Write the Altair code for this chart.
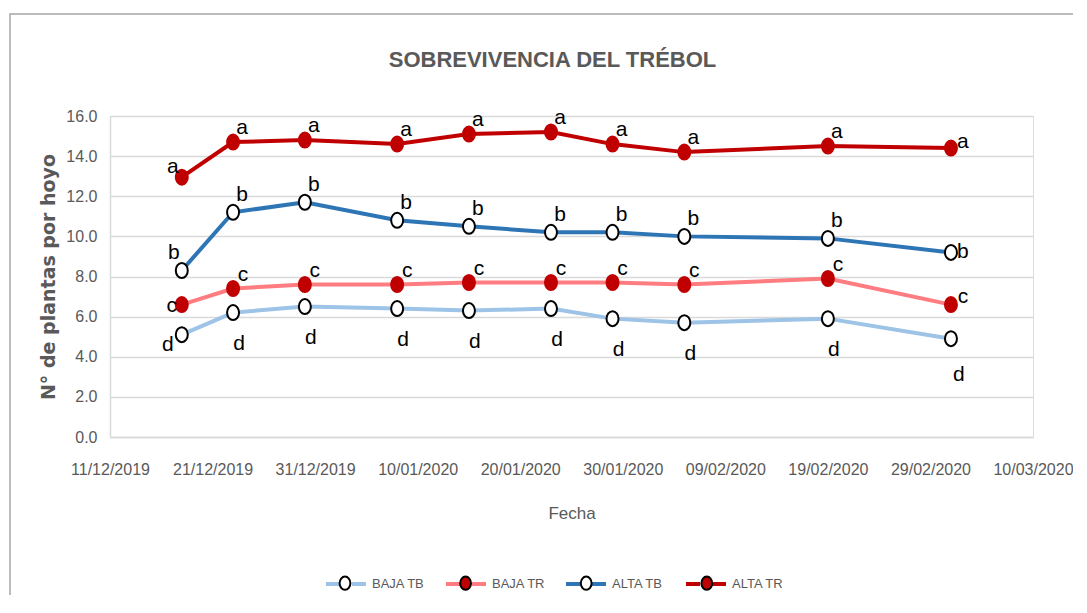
import altair as alt
import pandas as pd

# ---------------- data ----------------
fechas = ["2019-12-18", "2019-12-23", "2019-12-30", "2020-01-08", "2020-01-15",
          "2020-01-23", "2020-01-29", "2020-02-05", "2020-02-19", "2020-03-02"]
series = ["BAJA TB", "BAJA TR", "ALTA TB", "ALTA TR"]
baja_tb = [5.1, 6.2, 6.5, 6.4, 6.3, 6.4, 5.9, 5.7, 5.9, 4.9]
baja_tr = [6.6, 7.4, 7.6, 7.6, 7.7, 7.7, 7.7, 7.6, 7.9, 6.6]
alta_tb = [8.3, 11.2, 11.7, 10.8, 10.5, 10.2, 10.2, 10.0, 9.9, 9.2]
alta_tr = [12.95, 14.7, 14.8, 14.6, 15.1, 15.2, 14.6, 14.2, 14.5, 14.4]
letras = ["d", "c", "b", "a"]
ticks_fecha = ["2019-12-11", "2019-12-21", "2019-12-31", "2020-01-10", "2020-01-20",
               "2020-01-30", "2020-02-09", "2020-02-19", "2020-02-29", "2020-03-10"]
ticks_y = [0, 2, 4, 6, 8, 10, 12, 14, 16]

# ---------------- styles ----------------
line_colors = ["#9DC3E6", "#FF7C80", "#2E75B6", "#C00000"]
marker_fill = ["#FFFFFF", "#C00000", "#FFFFFF", "#C00000"]
marker_stroke = ["#000000", "#C00000", "#000000", "#C00000"]
GRAY = "#595959"
GRID = "#D9D9D9"
FONT = "Liberation Sans, Arial"

rows = []
for s, vals, l in zip(series, [baja_tb, baja_tr, alta_tb, alta_tr], letras):
    for i, (f, v) in enumerate(zip(fechas, vals)):
        pos = "first" if i == 0 else ("last" if i == len(fechas) - 1 else "mid")
        rows.append(dict(fecha=f, valor=v, serie=s, serie2=s, letra=l, pos=pos))
df = pd.DataFrame(rows)


def dt(s):
    y, m, d = (int(p) for p in s.split("-"))
    return alt.DateTime(year=y, month=m, date=d, utc=True)


W, H = 923, 321

x_enc = alt.X(
    "fecha:T",
    scale=alt.Scale(type="utc", domain=[dt(ticks_fecha[0]), dt(ticks_fecha[-1])]),
    axis=alt.Axis(
        values=[dt(t) for t in ticks_fecha],
        labelExpr="utcFormat(datum.value, '%d/%m/%Y')",
        grid=False, ticks=False, domainColor=GRID, domainWidth=1.5,
        labelFont=FONT, labelFontSize=16, labelColor=GRAY, labelPadding=24,
        labelBaseline="top", labelOverlap=False, labelFlush=False,
        title="Fecha", titleFont=FONT, titleFontSize=17, titleFontWeight="normal",
        titleColor=GRAY, titleX=W / 2, titleY=76, titleBaseline="middle", titleAlign="center",
    ),
)
y_enc = alt.Y(
    "valor:Q",
    scale=alt.Scale(domain=[0, 16], nice=False),
    axis=alt.Axis(
        values=ticks_y, format=".1f", grid=True, gridColor=GRID, gridWidth=1.5,
        ticks=False, domain=True, domainColor=GRID, domainWidth=1.5,
        labelFont=FONT, labelFontSize=16, labelColor=GRAY, labelPadding=13,
        title="N° de plantas  por hoyo", titleFont="DejaVu Sans", titleFontSize=19,
        titleFontWeight="bold", titleColor=GRAY, titleAngle=270,
        titleX=-62, titleY=H / 2, titleBaseline="middle", titleAlign="center",
    ),
)

LINE_SYM = "M-1,0H-0.3M0.3,0H1"
ELL_SYM = "M-0.27,0A0.27,0.33,0,1,1,0.27,0A0.27,0.33,0,1,1,-0.27,0Z"
ELL_MARK = "M-0.8,0A0.8,1,0,1,1,0.8,0A0.8,1,0,1,1,-0.8,0Z"

LEG_X, LEG_Y = 214, 446
leg_common = dict(
    orient="none", legendX=LEG_X, legendY=LEG_Y, direction="horizontal", columns=4,
    title=None, symbolSize=1600, labelFont=FONT, labelFontSize=13, labelColor=GRAY,
    labelOffset=4, padding=0, gridAlign="all",
)

base = alt.Chart(df)

lines = base.mark_line(strokeWidth=4).encode(
    x=x_enc, y=y_enc,
    color=alt.Color("serie:N", sort=series,
                    scale=alt.Scale(domain=series, range=line_colors),
                    legend=alt.Legend(symbolType=LINE_SYM, symbolStrokeWidth=4,
                                      columnPadding=12, **leg_common)),
)

points = base.mark_point(shape=ELL_MARK, filled=True, size=225, strokeWidth=2, opacity=1).encode(
    x=x_enc, y=y_enc,
    fill=alt.Fill("serie2:N", sort=series, scale=alt.Scale(range=marker_fill),
                  legend=alt.Legend(symbolType=ELL_SYM, symbolStrokeWidth=2,
                                    symbolStrokeColor="#000000", labelExpr="''",
                                    columnPadding=74.6, **leg_common)),
    stroke=alt.Stroke("serie2:N", sort=series, scale=alt.Scale(range=marker_stroke), legend=None),
)

offsets = {
    "ALTA TR": {"first": (-9, -10), "mid": (9, -14), "last": (12, -6)},
    "ALTA TB": {"first": (-8, -17), "mid": (9, -17), "last": (12, 0)},
    "BAJA TR": {"first": (-10, 1), "mid": (10, -14), "last": (12, -8)},
    "BAJA TB": {"first": (-14, 10), "mid": (6, 31), "last": (8, 36)},
}
text_layers = []
for s in series:
    for pos, (dx, dy) in offsets[s].items():
        text_layers.append(
            base.transform_filter(f"datum.serie == '{s}' && datum.pos == '{pos}'")
            .mark_text(font=FONT, fontSize=21, color="#000000", dx=dx, dy=dy,
                       align="center", baseline="middle")
            .encode(x=x_enc, y=y_enc, text="letra:N")
        )

frame = alt.Chart(alt.Data(values=[{}])).mark_rect(
    fill=None, stroke="#A6A6A6", strokeWidth=1.5
).encode(x=alt.value(-100), x2=alt.value(1100), y=alt.value(-102), y2=alt.value(700))

chart = alt.layer(frame, lines, points, *text_layers).properties(
    width=W, height=H,
    title=alt.TitleParams("SOBREVIVENCIA DEL TRÉBOL", font=FONT, fontSize=22, fontWeight="bold",
                          color=GRAY, anchor="middle", dx=-19, offset=34, dy=93),
    autosize=alt.AutoSizeParams(type="none"),
    padding={"left": 102, "top": 108, "right": 40, "bottom": 158},
).configure_view(stroke=None).configure(background="white")

chart.save("out.html", embed_options={"renderer": "svg", "actions": False})
